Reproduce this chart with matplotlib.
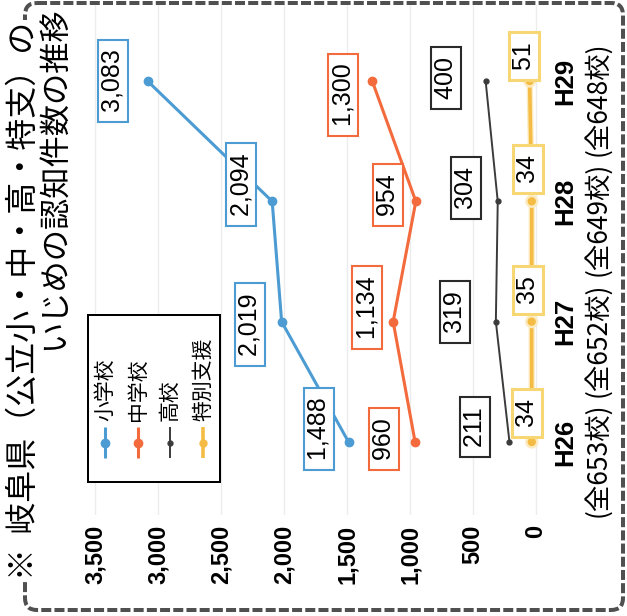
import matplotlib
matplotlib.use("Agg")
import matplotlib.pyplot as plt
import matplotlib.patheffects as pe
from matplotlib.patches import FancyBboxPatch, Rectangle
from matplotlib.ticker import FuncFormatter

# ---- data -------------------------------------------------------------
years = ["H26", "H27", "H28", "H29"]
schools = ["(全653校)", "(全652校)", "(全649校)", "(全648校)"]
series_names = ["小学校", "中学校", "高校", "特別支援"]
elementary = [1488, 2019, 2094, 3083]
junior_high = [960, 1134, 954, 1300]
high_school = [211, 319, 304, 400]
special_support = [34, 35, 34, 51]
value_ticks = [0, 500, 1000, 1500, 2000, 2500, 3000, 3500]
title_line1 = "※  岐阜県（公立小・中・高・特支）の"
title_line2 = "いじめの認知件数の推移"

# ---- styling ----------------------------------------------------------
W, H, DPI = 627, 616, 100
PT = 72 / DPI                      # points per pixel
LATIN = ["Liberation Sans", "DejaVu Sans"]
CJK = ["Noto Sans CJK JP", "Liberation Sans", "DejaVu Sans"]
plt.rcParams["font.family"] = LATIN

BLUE, ORANGE, GRAY, YELLOW = "#4C9CD3", "#F36B3D", "#3b3b3b", "#F4BC45"
YELLOW_EDGE = "#F6D774"

# label offsets (pixels; +x right, +y down on the page)
off_elem = [(-30, -13), (-32, 3), (-31, -17), (-35, 0)]
off_jh = [(-31, -3), (-26, -14), (-28, -6), (-29, 14)]
off_hs = [(-34, -15), (-41, -10), (-32, -13), (-40, -3)]
off_sp = [(-5, -29), (-4, -32), (-4, -32), (-6, -25)]

fig = plt.figure(figsize=(W / DPI, H / DPI), dpi=DPI)
fig.patch.set_facecolor("white")

# chart area: values grow to the left, fiscal years go upward
ax = fig.add_axes([80 / W, (H - 515) / H, 465 / W, 510 / H])
ax.set_facecolor("none")
ax.set_xlim(3619, -71)
ax.set_ylim(-0.607, 3.632)
for s in ax.spines.values():
    s.set_visible(False)

ax.set_xticks(value_ticks)
ax.xaxis.set_major_formatter(FuncFormatter(lambda v, _: f"{int(v):,}"))
ax.tick_params(axis="x", length=0, pad=10 * PT, labelsize=17)
for t in ax.get_xticklabels():
    t.set_rotation(90)
    t.set_fontweight("bold")
    t.set_ha("center")
    t.set_va("top")

idx = list(range(len(years)))
ax.set_yticks(idx)
ax.set_yticklabels(years)
ax.yaxis.tick_right()
ax.tick_params(axis="y", length=0, pad=8 * PT, labelsize=18.5)
for t in ax.get_yticklabels():
    t.set_rotation(90)
    t.set_fontweight("bold")
    t.set_va("center")
    t.set_ha("left")

ax.grid(axis="x", color="#ececec", lw=1)
ax.set_axisbelow(True)

# school counts under each fiscal year
for i, s in enumerate(schools):
    ax.annotate(s, xy=(1, i), xycoords=ax.get_yaxis_transform(),
                xytext=(52 * PT, -18 * PT), textcoords="offset points",
                rotation=90, ha="center", va="center", fontsize=19,
                family=CJK, annotation_clip=False)

ax.plot(elementary, idx, color=BLUE, lw=2.2, marker="o", ms=6, zorder=3)
ax.plot(junior_high, idx, color=ORANGE, lw=2.2, marker="o", ms=6, zorder=3)
ax.plot(high_school, idx, color=GRAY, lw=1.4, marker="o", ms=3.5, zorder=3)
ax.plot(special_support, idx, color=YELLOW, lw=2.6, marker="o", ms=5, zorder=3,
        path_effects=[pe.Stroke(linewidth=4.5, foreground="#FCEBC0"), pe.Normal()])


def label_series(values, offsets, edge, lw=1.5):
    for i, (v, (dx, dy)) in enumerate(zip(values, offsets)):
        ax.annotate(f" {v:,} ", xy=(v, i), xytext=(dx * PT, -dy * PT),
                    textcoords="offset points", rotation=90,
                    ha="center", va="center", fontsize=18, zorder=5,
                    bbox=dict(boxstyle="square,pad=0.12", fc="white",
                              ec=edge, lw=lw))


label_series(elementary, off_elem, BLUE)
label_series(junior_high, off_jh, ORANGE)
label_series(high_school, off_hs, "#2a2a2a")
label_series(special_support, off_sp, YELLOW_EDGE, lw=2.2)

# ---- page decorations (pixel coordinates) -------------------------------
deco = fig.add_axes([0, 0, 1, 1], zorder=5)
deco.set_xlim(0, W)
deco.set_ylim(H, 0)
deco.axis("off")
deco.patch.set_alpha(0)

deco.add_patch(FancyBboxPatch((25, 3), 598, 607,
                              boxstyle="round,pad=0,rounding_size=12",
                              fill=False, ec="#505050", lw=4 * PT,
                              ls=(0, (2.5, 0.8))))

deco.text(24, 580, title_line1, rotation=90, ha="center", va="bottom",
          fontsize=23, family=CJK,
          bbox=dict(fc="white", ec="none", pad=1))
deco.text(55, 350, title_line2, rotation=90, ha="center", va="bottom",
          fontsize=22.5, family=CJK)

# legend
deco.add_patch(Rectangle((88, 315), 132, 167, fc="white", ec="black",
                         lw=2 * PT))
legend_x = [105, 138, 170, 203]
legend_style = [(BLUE, 2.2, 6), (ORANGE, 2.2, 6), (GRAY, 1.4, 3.5), (YELLOW, 2.6, 5)]
for x, name, (c, lw, ms) in zip(legend_x, series_names, legend_style):
    deco.plot([x, x], [458, 427], color=c, lw=lw, solid_capstyle="butt")
    deco.plot([x], [442.5], color=c, marker="o", ms=ms)
    deco.text(x, 421, name, rotation=90, ha="center", va="bottom",
              fontsize=15, family=CJK)

fig.savefig("out.png", dpi=DPI, facecolor="white")
